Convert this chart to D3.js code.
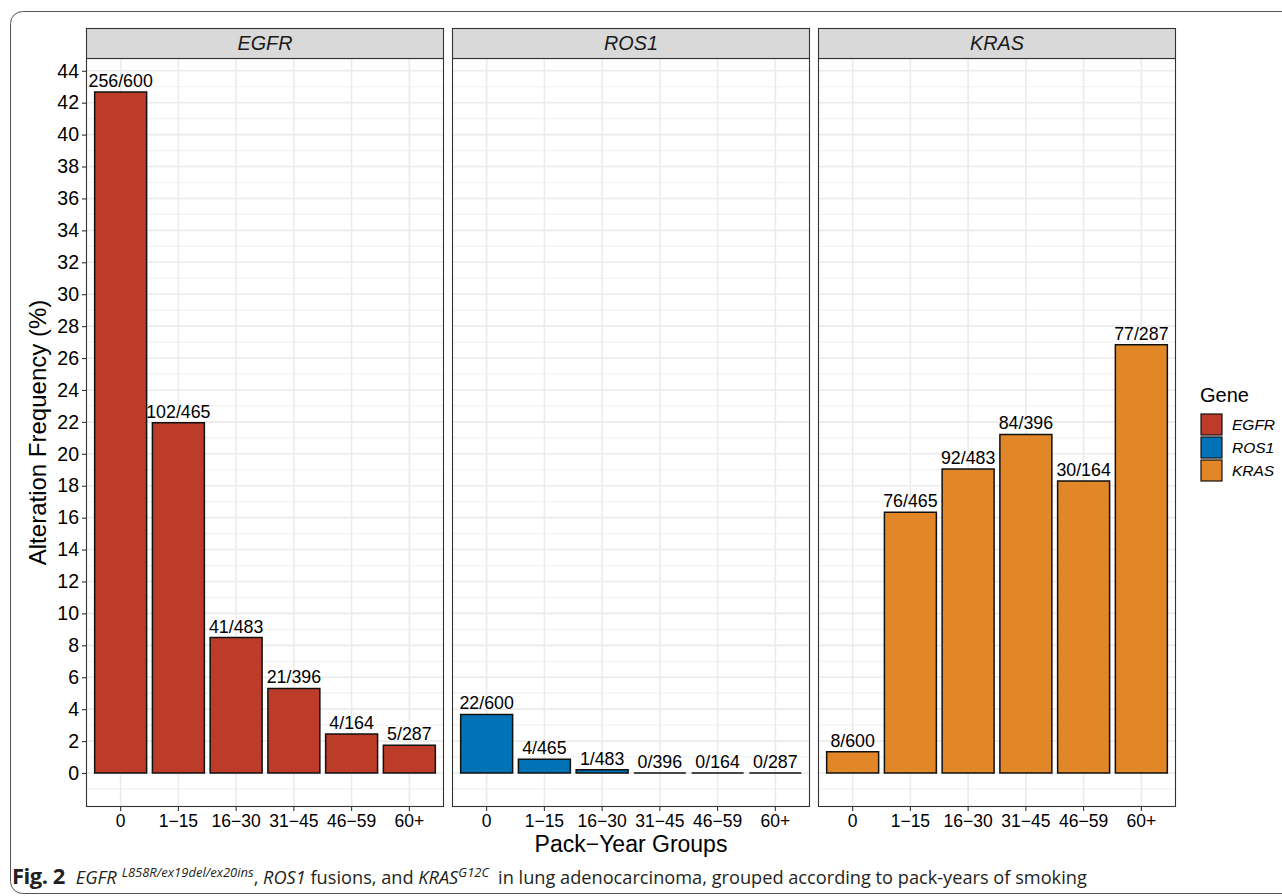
<!DOCTYPE html>
<html lang="en">
<head>
    <meta charset="UTF-8">
    <script src="https://d3js.org/d3.v7.min.js"></script>
    <title>Alteration frequency by pack-years</title>
    <style>
        body { margin: 0; background: #fff; }
        text { font-family: "Liberation Sans", Arial, sans-serif; }
    </style>
</head>
<body>
    <svg id="chart" width="1282" height="896"></svg>
    <script>
        // data
        const genes = ["EGFR", "ROS1", "KRAS"];
        const groups = ["0", "1\u221215", "16\u221230", "31\u221245", "46\u221259", "60+"];
        const egfrValues = [42.67, 21.94, 8.49, 5.30, 2.44, 1.74];
        const ros1Values = [3.67, 0.86, 0.21, 0, 0, 0];
        const krasValues = [1.33, 16.34, 19.05, 21.21, 18.29, 26.83];
        const egfrLabels = ["256/600", "102/465", "41/483", "21/396", "4/164", "5/287"];
        const ros1Labels = ["22/600", "4/465", "1/483", "0/396", "0/164", "0/287"];
        const krasLabels = ["8/600", "76/465", "92/483", "84/396", "30/164", "77/287"];
        const geneColors = ["#BC3C29", "#0072B5", "#E18727"];
        const yTicks = d3.range(0, 45, 2);

        const seriesValues = [egfrValues, ros1Values, krasValues];
        const seriesLabels = [egfrLabels, ros1Labels, krasLabels];

        const svg = d3.select("#chart");

        // outer figure frame
        svg.append("rect")
            .attr("x", 10.5).attr("y", 11.5)
            .attr("width", 1290).attr("height", 882)
            .attr("rx", 12)
            .attr("fill", "none")
            .attr("stroke", "#555")
            .attr("stroke-width", 1);

        const panelTop = 58, panelBottom = 807, stripTop = 28;
        const panelLefts = [86, 452, 818];
        const panelWidth = 358;

        const y = d3.scaleLinear()
            .domain([-2.13, 44.8])
            .range([panelBottom, panelTop]);

        const color = d3.scaleOrdinal().domain(genes).range(geneColors);

        genes.forEach(function(gene, gi) {
            const left = panelLefts[gi];
            const x = d3.scaleBand()
                .domain(groups)
                .range([left, left + panelWidth])
                .paddingInner(0.1)
                .paddingOuter(0.15);
            const cx = d => x(d) + x.bandwidth() / 2;

            const g = svg.append("g");

            // minor grid
            g.selectAll(".minor")
                .data(d3.range(-1, 45, 2))
                .enter().append("line")
                .attr("x1", left).attr("x2", left + panelWidth)
                .attr("y1", d => y(d)).attr("y2", d => y(d))
                .attr("stroke", "#F2F2F2")
                .attr("stroke-width", 1.2);

            // major grid
            g.selectAll(".major")
                .data(yTicks)
                .enter().append("line")
                .attr("x1", left).attr("x2", left + panelWidth)
                .attr("y1", d => y(d)).attr("y2", d => y(d))
                .attr("stroke", "#EBEBEB")
                .attr("stroke-width", 1.6);

            g.selectAll(".vgrid")
                .data(groups)
                .enter().append("line")
                .attr("x1", d => cx(d)).attr("x2", d => cx(d))
                .attr("y1", panelTop).attr("y2", panelBottom)
                .attr("stroke", "#EBEBEB")
                .attr("stroke-width", 1.6);

            const values = seriesValues[gi];
            const labels = seriesLabels[gi];

            // bars (path so zero height bars still show their outline)
            g.selectAll(".bar")
                .data(groups)
                .enter().append("path")
                .attr("d", (d, i) => {
                    const x0 = x(d), w = x.bandwidth();
                    const y0 = y(0), y1 = y(values[i]);
                    return "M" + x0 + "," + y0 + "H" + (x0 + w) + "V" + y1 + "H" + x0 + "Z";
                })
                .attr("fill", color(gene))
                .attr("stroke", "#111")
                .attr("stroke-width", 1.5);

            g.selectAll(".lbl")
                .data(groups)
                .enter().append("text")
                .attr("x", d => cx(d))
                .attr("y", (d, i) => y(values[i]) - 5)
                .attr("text-anchor", "middle")
                .attr("font-size", 17.8)
                .attr("fill", "#000")
                .text((d, i) => labels[i]);

            // panel border
            g.append("rect")
                .attr("x", left + 0.5).attr("y", panelTop + 0.5)
                .attr("width", panelWidth - 1).attr("height", panelBottom - panelTop - 1)
                .attr("fill", "none")
                .attr("stroke", "#333")
                .attr("stroke-width", 1.1);

            // strip
            g.append("rect")
                .attr("x", left + 0.5).attr("y", stripTop + 0.5)
                .attr("width", panelWidth - 1).attr("height", panelTop - stripTop)
                .attr("fill", "#D9D9D9")
                .attr("stroke", "#333")
                .attr("stroke-width", 1.1);

            g.append("text")
                .attr("x", left + panelWidth / 2)
                .attr("y", stripTop + 22)
                .attr("text-anchor", "middle")
                .attr("font-size", 19.8)
                .attr("font-style", "italic")
                .attr("fill", "#1a1a1a")
                .text(gene);

            // x axis
            const xAxis = g.append("g")
                .attr("transform", "translate(0," + panelBottom + ")")
                .call(d3.axisBottom(x).tickSize(4).tickPadding(4));
            xAxis.select(".domain").remove();
            xAxis.selectAll("line").attr("stroke", "#333").attr("stroke-width", 1.1);
            xAxis.selectAll("text")
                .attr("font-size", 17.5)
                .attr("fill", "#000");

            if (gi === 0) {
                const yAxis = g.append("g")
                    .attr("transform", "translate(" + left + ",0)")
                    .call(d3.axisLeft(y).tickValues(yTicks).tickSize(4).tickPadding(3));
                yAxis.select(".domain").remove();
                yAxis.selectAll("line").attr("stroke", "#333").attr("stroke-width", 1.1);
                yAxis.selectAll("text")
                    .attr("font-size", 19.5)
                    .attr("fill", "#000");
            }
        });

        // axis titles
        svg.append("text")
            .attr("transform", "translate(46," + ((panelTop + panelBottom) / 2) + ") rotate(-90)")
            .attr("text-anchor", "middle")
            .attr("font-size", 24)
            .text("Alteration Frequency (%)");

        svg.append("text")
            .attr("x", 631)
            .attr("y", 852)
            .attr("text-anchor", "middle")
            .attr("font-size", 23)
            .text("Pack\u2212Year Groups");

        // legend
        const legend = svg.append("g").attr("transform", "translate(1200,0)");
        legend.append("text")
            .attr("x", 0).attr("y", 402)
            .attr("font-size", 20)
            .text("Gene");
        legend.selectAll(".key")
            .data(genes)
            .enter().append("rect")
            .attr("x", 1).attr("y", (d, i) => 414 + i * 23)
            .attr("width", 21).attr("height", 21)
            .attr("fill", d => color(d))
            .attr("stroke", "#111")
            .attr("stroke-width", 1.2);
        legend.selectAll(".keylbl")
            .data(genes)
            .enter().append("text")
            .attr("x", 32).attr("y", (d, i) => 430 + i * 23)
            .attr("font-size", 15.5)
            .attr("font-style", "italic")
            .text(d => d);

        // figure caption
        const cap = svg.append("text")
            .attr("x", 12).attr("y", 884)
            .attr("font-size", 18.2)
            .style("font-family", "'Open Sans', 'Noto Sans', sans-serif")
            .attr("fill", "#231f20");
        cap.append("tspan").attr("font-weight", "bold").attr("font-size", 22).attr("letter-spacing", -0.5).text("Fig. 2");
        cap.append("tspan").attr("font-style", "italic").attr("dx", 11).text("EGFR");
        cap.append("tspan").attr("font-style", "italic").attr("font-size", 13).attr("dx", 5).attr("dy", -7).text("L858R/ex19del/ex20ins");
        cap.append("tspan").attr("dy", 7).text(", ");
        cap.append("tspan").attr("font-style", "italic").text("ROS1");
        cap.append("tspan").text(" fusions, and ");
        cap.append("tspan").attr("font-style", "italic").text("KRAS");
        cap.append("tspan").attr("font-style", "italic").attr("font-size", 13).attr("dy", -7).text("G12C");
        cap.append("tspan").attr("dy", 7).attr("dx", 9).text("in lung adenocarcinoma, grouped according to pack-years of smoking");
    </script>
</body>
</html>
